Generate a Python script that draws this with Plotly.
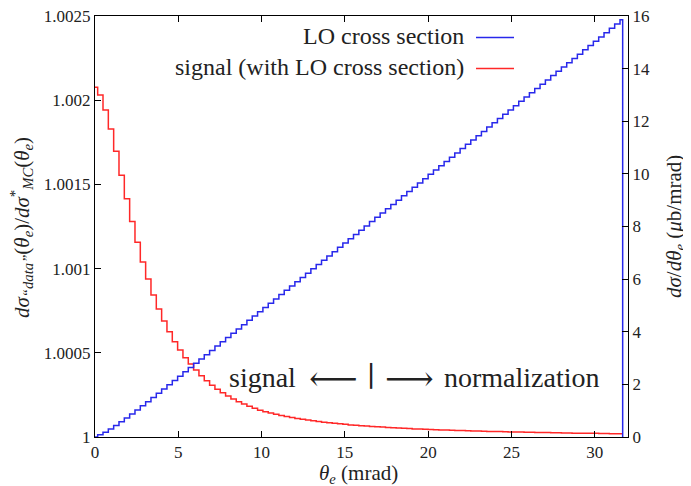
import plotly.graph_objects as go

# bin positions (mrad), 100 bins of 0.32 mrad
theta = [round(0.32 * i, 2) for i in range(100)]

# LO cross section dsigma/dtheta_e (mub/mrad), right axis
lo_xsec = [
    0.000, 0.081, 0.185, 0.304, 0.436, 0.577, 0.723, 0.874, 1.029, 1.186,
    1.344, 1.504, 1.665, 1.826, 1.988, 2.150, 2.313, 2.476, 2.639, 2.801,
    2.965, 3.127, 3.290, 3.454, 3.617, 3.780, 3.943, 4.106, 4.270, 4.433,
    4.596, 4.759, 4.922, 5.086, 5.249, 5.412, 5.575, 5.738, 5.902, 6.065,
    6.228, 6.391, 6.554, 6.718, 6.881, 7.044, 7.207, 7.370, 7.534, 7.697,
    7.860, 8.023, 8.186, 8.350, 8.513, 8.676, 8.839, 9.002, 9.166, 9.329,
    9.492, 9.655, 9.818, 9.982, 10.145, 10.308, 10.471, 10.634, 10.798, 10.961,
    11.124, 11.287, 11.450, 11.614, 11.777, 11.940, 12.103, 12.266, 12.430, 12.593,
    12.756, 12.919, 13.082, 13.246, 13.409, 13.572, 13.735, 13.898, 14.062, 14.225,
    14.388, 14.551, 14.714, 14.878, 15.041, 15.204, 15.367, 15.530, 15.694, 15.857,
]

# ratio "data"/MC (signal with LO cross section), left axis
signal_ratio = [
    1.002077, 1.002031, 1.001942, 1.001829, 1.001697, 1.001554, 1.001415, 1.001279, 1.001156, 1.001039,
    1.000938, 1.000843, 1.000760, 1.000689, 1.000625, 1.000566, 1.000517, 1.000471, 1.000433, 1.000398,
    1.000364, 1.000334, 1.000308, 1.000284, 1.000263, 1.000243, 1.000226, 1.000210, 1.000196, 1.000182,
    1.000170, 1.000159, 1.000150, 1.000142, 1.000135, 1.000128, 1.000122, 1.000116, 1.000110, 1.000105,
    1.000101, 1.000096, 1.000092, 1.000088, 1.000085, 1.000081, 1.000078, 1.000075, 1.000072, 1.000070,
    1.000067, 1.000065, 1.000063, 1.000061, 1.000059, 1.000057, 1.000055, 1.000053, 1.000052, 1.000050,
    1.000048, 1.000047, 1.000046, 1.000044, 1.000043, 1.000042, 1.000041, 1.000040, 1.000039, 1.000038,
    1.000037, 1.000036, 1.000035, 1.000034, 1.000033, 1.000032, 1.000032, 1.000031, 1.000030, 1.000030,
    1.000029, 1.000028, 1.000028, 1.000027, 1.000026, 1.000026, 1.000025, 1.000025, 1.000024, 1.000024,
    1.000023, 1.000023, 1.000022, 1.000022, 1.000022, 1.000021, 1.000021, 1.000020, 1.000020, 1.000020,
]

x_ticks = [0, 5, 10, 15, 20, 25, 30]
y1_ticks = [1.0, 1.0005, 1.001, 1.0015, 1.002, 1.0025]
y1_labels = ["1", "1.0005", "1.001", "1.0015", "1.002", "1.0025"]
y2_ticks = [0, 2, 4, 6, 8, 10, 12, 14, 16]

BLUE = "rgb(40,40,235)"
RED = "rgb(255,40,40)"
FONT = "'Liberation Serif', 'DejaVu Serif', serif"
TXT = "#222"

# the page body adds an 8 px margin, so the figure is drawn 8 px smaller/offset
OFF = 8
PL, PR, PT, PB = 95, 628, 16, 437          # plot box in window pixels
PW, PH = PR - PL, PB - PT


def px(X):
    return (X - PL) / PW


def py(Y):
    return (PB - Y) / PH


fig = go.Figure()

# blue histogram outline, closed down to zero at the last edge
fig.add_trace(go.Scatter(
    x=theta + [theta[-1]], y=lo_xsec + [0.0], yaxis="y2",
    mode="lines", line=dict(color=BLUE, width=1.5, shape="hvh"),
    name="LO cross section", showlegend=False, hoverinfo="skip",
))
fig.add_trace(go.Scatter(
    x=theta, y=signal_ratio, yaxis="y",
    mode="lines", line=dict(color=RED, width=1.5, shape="hvh"),
    name="signal (with LO cross section)", showlegend=False, hoverinfo="skip",
))

axis_common = dict(
    showline=True, linecolor="black", linewidth=1,
    ticks="inside", ticklen=6, tickcolor="black", tickwidth=1,
    showgrid=False, zeroline=False, automargin=False,
    ticklabeloverflow="allow",
    tickfont=dict(family=FONT, size=17, color=TXT),
)

W, H = 691 - OFF, 486 - OFF
fig.update_layout(
    width=W, height=H,
    paper_bgcolor="white", plot_bgcolor="white",
    margin=dict(l=PL - OFF, r=W - (PR - OFF), t=PT - OFF, b=H - (PB - OFF), autoexpand=False),
    showlegend=False,
    xaxis=dict(range=[0, 32], tickvals=x_ticks, mirror="ticks", **axis_common),
    yaxis=dict(range=[1.0, 1.0025], tickvals=y1_ticks, ticktext=y1_labels, **axis_common),
    yaxis2=dict(range=[0, 16], tickvals=y2_ticks, overlaying="y", side="right", **axis_common),
)


def note(X, Y, text, size, angle=0, anchor="center"):
    fig.add_annotation(
        x=px(X), y=py(Y), xref="paper", yref="paper",
        xanchor=anchor, yanchor="middle", showarrow=False, textangle=angle,
        text=text, font=dict(family=FONT, size=size, color=TXT),
    )


# axis titles
note(358, 474, "<i>θ<sub>e</sub></i> (mrad)", 21)
note(21, 228,
     "<i>dσ</i><sub><i>“data”</i></sub>(<i>θ<sub>e</sub></i>)/<i>dσ</i><sup>*</sup><sub><i>MC</i></sub>(<i>θ<sub>e</sub></i>)",
     21, angle=-90)
note(675, 227, "<i>dσ</i>/<i>dθ<sub>e</sub></i> (<i>μ</i>b/mrad)", 21, angle=-90)

# legend drawn gnuplot-style: text right-aligned, sample line to the right
legend_rows = [("LO cross section", BLUE, 36), ("signal (with LO cross section)", RED, 67)]
for label, color, ypx in legend_rows:
    note(466, ypx, label, 24, anchor="right")
    fig.add_shape(
        type="line", xref="paper", yref="paper", x0=px(476), x1=px(514),
        y0=py(ypx + 1.5), y1=py(ypx + 1.5), line=dict(color=color, width=1.5),
    )

# region annotation
note(298, 377, "signal", 28, anchor="right")
note(333, 378, "⟵", 34)
note(371, 376, "∣", 28)
note(409, 378, "⟶", 34)
note(442, 377, "normalization", 28, anchor="left")

fig.write_html("out.html")
